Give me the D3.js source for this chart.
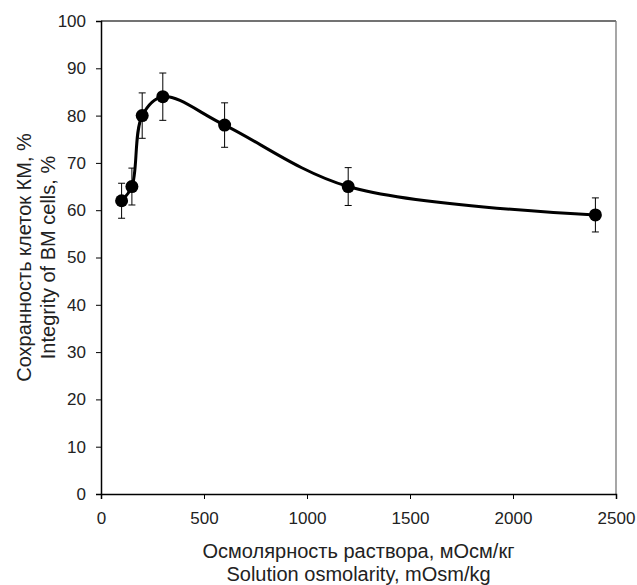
<!DOCTYPE html>
<html>
<head>
<meta charset="utf-8">
<script src="https://cdn.jsdelivr.net/npm/d3@7"></script>
<style>
  body { margin: 0; background: #fff; }
  text { font-family: "Liberation Sans", Arial, sans-serif; fill: #222; }
</style>
</head>
<body>
<div id="chart"></div>
<script>
// osmolarity, mOsm/kg
var osmolarity = [100, 150, 200, 300, 600, 1200, 2400];
// integrity of BM cells, %
var integrity = [62, 65, 80, 84, 78, 65, 59];
// error bar half-widths
var errors = [3.7, 3.9, 4.8, 5, 4.7, 4, 3.6];
var xTicks = [0, 500, 1000, 1500, 2000, 2500];
var yTicks = [0, 10, 20, 30, 40, 50, 60, 70, 80, 90, 100];

var data = osmolarity.map(function (d, i) {
    return { x: d, y: integrity[i], e: errors[i] };
});

// set the dimensions and margins of the graph
var margin = { top: 21, right: 21, bottom: 91, left: 101 },
    width = 637 - margin.left - margin.right,
    height = 585 - margin.top - margin.bottom;

var x = d3.scaleLinear().domain([0, 2500]).range([0, width]);
var y = d3.scaleLinear().domain([0, 100]).range([height, 0]);

var svg = d3.select("#chart").append("svg")
    .attr("width", 637)
    .attr("height", 585)
    .append("g")
    .attr("transform", "translate(" + margin.left + "," + margin.top + ")");

// frame: top and right
svg.append("line")
    .attr("x1", 0).attr("x2", width).attr("y1", 0).attr("y2", 0)
    .attr("stroke", "#444").attr("stroke-width", 1.3);
svg.append("line")
    .attr("x1", width).attr("x2", width).attr("y1", 0).attr("y2", height)
    .attr("stroke", "#777").attr("stroke-width", 1.3);

// axes
var xAxis = svg.append("g")
    .attr("transform", "translate(0," + height + ")")
    .call(d3.axisBottom(x).tickValues(xTicks).tickSize(5).tickPadding(13).tickFormat(d3.format("d")));
var yAxis = svg.append("g")
    .call(d3.axisLeft(y).tickValues(yTicks).tickSize(5).tickPadding(10).tickFormat(d3.format("d")));

[xAxis, yAxis].forEach(function (a) {
    a.select(".domain").attr("stroke", "#000").attr("stroke-width", 1.5);
    a.selectAll(".tick line").attr("stroke", "#000").attr("stroke-width", 1);
    a.selectAll(".tick text")
        .attr("font-size", 17)
        .style("font-family", "'Liberation Sans', Arial, sans-serif")
        .attr("fill", "#222");
});

// smoothed line
var line = d3.line()
    .x(function (d) { return x(d.x); })
    .y(function (d) { return y(d.y); })
    .curve(d3.curveCatmullRom.alpha(0.5));

svg.append("path")
    .datum(data)
    .attr("fill", "none")
    .attr("stroke", "#000")
    .attr("stroke-width", 3)
    .attr("d", line);

// error bars
var eb = svg.selectAll(".err").data(data).enter().append("g").attr("class", "err");
eb.append("line")
    .attr("x1", function (d) { return x(d.x); })
    .attr("x2", function (d) { return x(d.x); })
    .attr("y1", function (d) { return y(d.y + d.e); })
    .attr("y2", function (d) { return y(d.y - d.e); })
    .attr("stroke", "#000").attr("stroke-width", 1);
eb.append("line")
    .attr("x1", function (d) { return x(d.x) - 3.5; })
    .attr("x2", function (d) { return x(d.x) + 3.5; })
    .attr("y1", function (d) { return y(d.y + d.e); })
    .attr("y2", function (d) { return y(d.y + d.e); })
    .attr("stroke", "#000").attr("stroke-width", 1);
eb.append("line")
    .attr("x1", function (d) { return x(d.x) - 3.5; })
    .attr("x2", function (d) { return x(d.x) + 3.5; })
    .attr("y1", function (d) { return y(d.y - d.e); })
    .attr("y2", function (d) { return y(d.y - d.e); })
    .attr("stroke", "#000").attr("stroke-width", 1);

// markers
svg.selectAll(".dot")
    .data(data)
    .enter().append("circle")
    .attr("class", "dot")
    .attr("cx", function (d) { return x(d.x); })
    .attr("cy", function (d) { return y(d.y); })
    .attr("r", 6.5)
    .attr("fill", "#000");

// axis titles
var xt = svg.append("text")
    .attr("text-anchor", "middle")
    .attr("font-size", 20)
    .attr("y", height + 64);
xt.append("tspan").attr("x", width / 2).text("Осмолярность раствора, мОсм/кг");
xt.append("tspan").attr("x", width / 2).attr("dy", 23).text("Solution osmolarity, mOsm/kg");

var yt = svg.append("text")
    .attr("text-anchor", "middle")
    .attr("font-size", 20)
    .attr("transform", "translate(" + (-70) + "," + (height / 2) + ") rotate(-90)");
yt.append("tspan").attr("x", 0).attr("y", 0).text("Сохранность клеток КМ, %");
yt.append("tspan").attr("x", 0).attr("dy", 24).text("Integrity of BM cells, %");
</script>
</body>
</html>
